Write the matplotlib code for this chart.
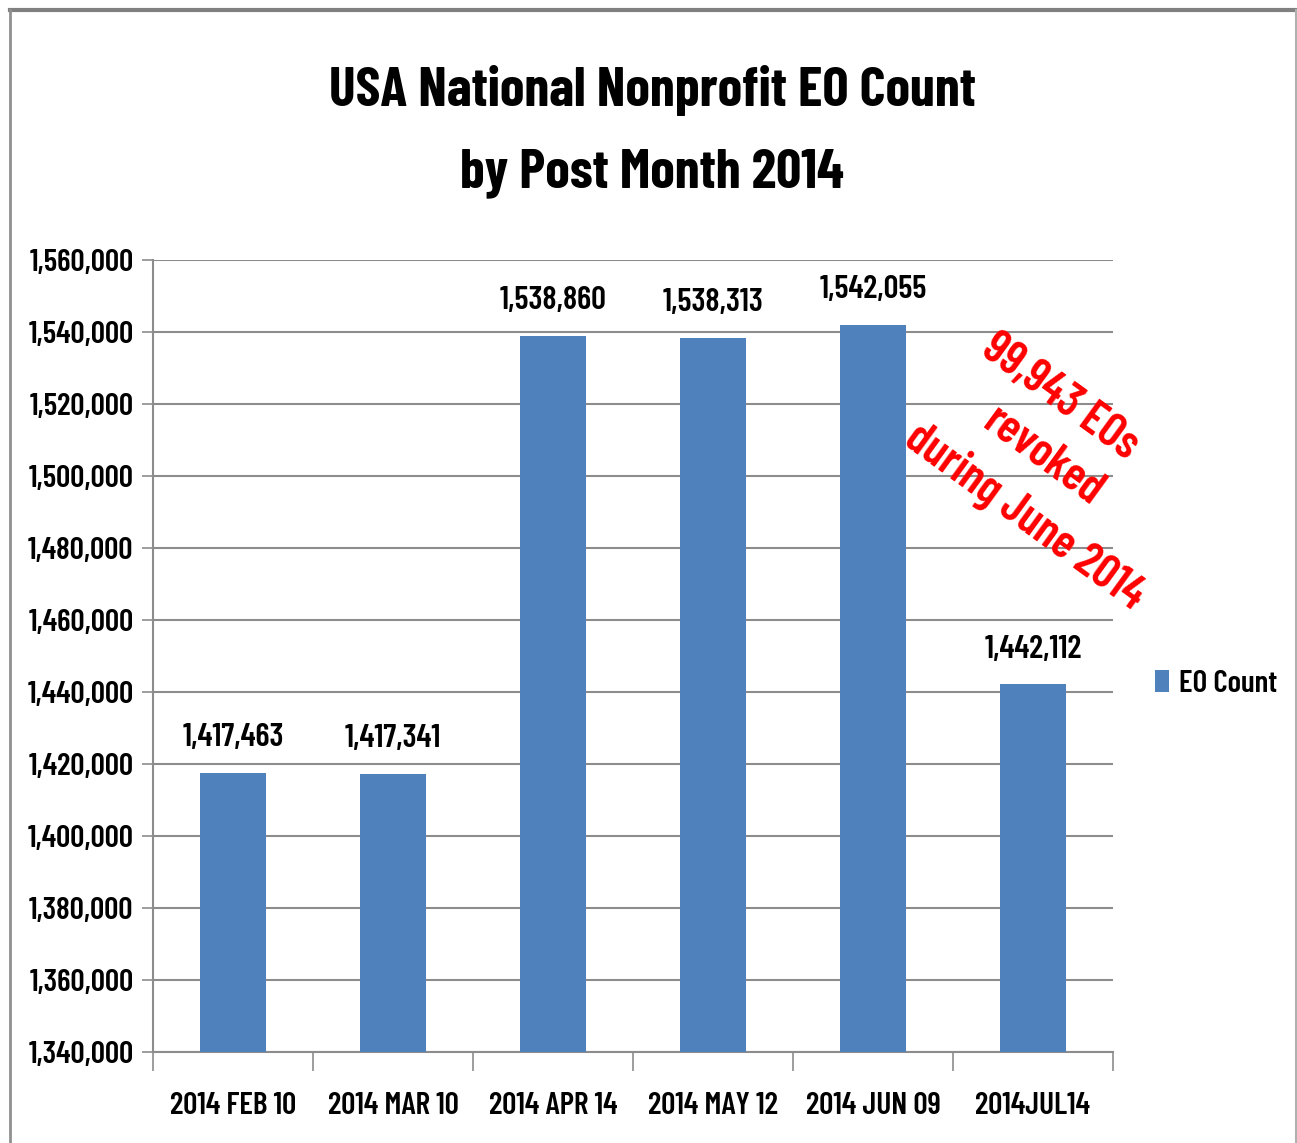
import matplotlib.pyplot as plt
from matplotlib.lines import Line2D
from matplotlib.ticker import FuncFormatter, MultipleLocator

plt.rcParams['font.family'] = ['Barlow Condensed', 'DejaVu Sans']

# data
months = ['2014 FEB 10', '2014 MAR 10', '2014 APR 14', '2014 MAY 12', '2014 JUN 09', '2014JUL14']
eo_count = [1417463, 1417341, 1538860, 1538313, 1542055, 1442112]
note_lines = ['99,943 EOs', 'revoked', 'during June 2014']

fig = plt.figure(figsize=(12.97, 11.43), dpi=100)
ax = fig.add_axes([0.118, 0.0796, 0.740, 0.6929])

x = range(len(months))
bars = ax.bar(x, eo_count, width=0.41, color='#4F81BD', label='EO Count', zorder=3)

ax.set_ylim(1340000, 1560000)
ax.set_xlim(-0.5, len(months) - 0.5)
ax.yaxis.set_major_locator(MultipleLocator(20000))
ax.yaxis.set_major_formatter(FuncFormatter(lambda v, p: f'{int(v):,}'))
ax.grid(axis='y', color='#8c8c8c', linewidth=1.5, zorder=0)

# category ticks sit between bars like excel
ax.set_xticks([i - 0.5 for i in range(len(months) + 1)], minor=False)
ax.set_xticklabels([])
ax.set_xticks(list(x), minor=True)
ax.set_xticklabels(months, minor=True, fontsize=22.5, fontweight='semibold')
ax.tick_params(axis='x', which='major', length=14, color='#8c8c8c', width=1.2)
ax.tick_params(axis='x', which='minor', length=0, pad=29)
ax.tick_params(axis='y', length=8, color='#8c8c8c', width=1.2, labelsize=22.5, pad=6)
for t in ax.get_yticklabels():
    t.set_fontweight('semibold')

for s in ['top', 'right']:
    ax.spines[s].set_visible(False)
for s in ['left', 'bottom']:
    ax.spines[s].set_color('#8c8c8c')
    ax.spines[s].set_linewidth(1.5)

for b, v in zip(bars, eo_count):
    ax.annotate(f'{v:,}', (b.get_x() + b.get_width() / 2, v), xytext=(0, 15),
                textcoords='offset points', ha='center', va='bottom',
                fontsize=23.5, fontweight='semibold')

fig.text(0.503, 0.885, 'USA National Nonprofit EO Count\nby Post Month 2014',
         ha='center', va='center', fontsize=40, fontweight='bold', linespacing=1.85)

# red callout, each line placed on its own (lines are staggered in the original)
note_xy = [(0.8173, 0.6527), (0.8042, 0.6002), (0.7903, 0.5486)]
for line, (nx, ny) in zip(note_lines, note_xy):
    fig.text(nx, ny, line, ha='center', va='center', rotation=-36,
             rotation_mode='anchor', color='#ff0000', fontsize=34, fontweight='semibold')

ax.legend(loc='center left', bbox_to_anchor=(1.015, 0.465), frameon=False,
          prop={'size': 22.5, 'weight': 'semibold'}, handlelength=0.45, handleheight=0.75,
          handletextpad=0.3)

# outer frame of the excel chart
fig.add_artist(Line2D([10 / 1297, 1296 / 1297], [1 - 10 / 1143] * 2, color='#808080', linewidth=3))
fig.add_artist(Line2D([10 / 1297] * 2, [0, 1 - 10 / 1143], color='#909090', linewidth=2))
fig.add_artist(Line2D([1296 / 1297] * 2, [0, 1 - 10 / 1143], color='#b0b0b0', linewidth=1.5))

fig.savefig('out.png', dpi=100)
